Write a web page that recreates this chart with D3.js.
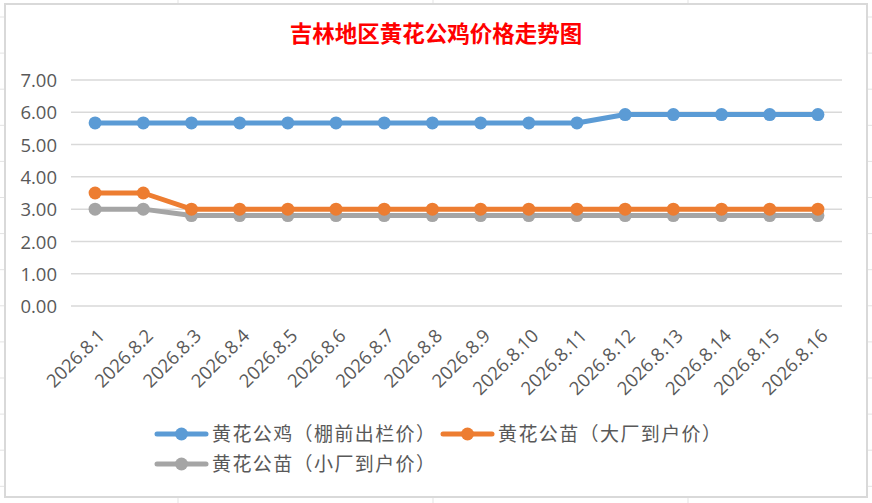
<!DOCTYPE html>
<html>
<head>
<meta charset="utf-8">
<script src="https://cdn.jsdelivr.net/npm/d3@7"></script>
<style>
  body { margin: 0; background: #fff; }
  svg { display: block; font-family: "Noto Sans CJK SC", "Open Sans", sans-serif; }
</style>
</head>
<body>
<svg id="chart" width="872" height="503"></svg>
<script>
const dates = ["2026.8.1", "2026.8.2", "2026.8.3", "2026.8.4", "2026.8.5", "2026.8.6", "2026.8.7", "2026.8.8",
  "2026.8.9", "2026.8.10", "2026.8.11", "2026.8.12", "2026.8.13", "2026.8.14", "2026.8.15", "2026.8.16"];
const roosterPrice = [5.67, 5.67, 5.67, 5.67, 5.67, 5.67, 5.67, 5.67, 5.67, 5.67, 5.67, 5.93, 5.93, 5.93, 5.93, 5.93];
const chickBigFarm = [3.5, 3.5, 3.0, 3.0, 3.0, 3.0, 3.0, 3.0, 3.0, 3.0, 3.0, 3.0, 3.0, 3.0, 3.0, 3.0];
const chickSmallFarm = [3.0, 3.0, 2.8, 2.8, 2.8, 2.8, 2.8, 2.8, 2.8, 2.8, 2.8, 2.8, 2.8, 2.8, 2.8, 2.8];
const yTicks = [0, 1, 2, 3, 4, 5, 6, 7];

const series = [
  { name: "黄花公鸡（棚前出栏价）", values: roosterPrice, color: "#5b9bd5" },
  { name: "黄花公苗（大厂到户价）", values: chickBigFarm, color: "#ed7d31" },
  { name: "黄花公苗（小厂到户价）", values: chickSmallFarm, color: "#a5a5a5" },
];

const svg = d3.select("#chart");
const width = +svg.attr("width");
const height = +svg.attr("height");

// spreadsheet cells behind the chart
const sheet = svg.append("g").attr("stroke", "#e3e3e3").attr("stroke-width", 1);
d3.range(17, height, 36.1).forEach((y) => {
  sheet.append("line").attr("x1", 0).attr("x2", width).attr("y1", y).attr("y2", y);
});
[178, 433, 688].forEach((x) => {
  sheet.append("line").attr("x1", x).attr("x2", x).attr("y1", 0).attr("y2", height);
});

// chart frame
svg.append("rect")
  .attr("x", 5).attr("y", 4).attr("width", 862).attr("height", 493)
  .attr("fill", "#fff").attr("stroke", "#d9d9d9").attr("stroke-width", 2);

svg.append("text")
  .attr("x", 436).attr("y", 42)
  .attr("text-anchor", "middle")
  .attr("fill", "#ff0000")
  .attr("font-size", 22.5)
  .attr("font-weight", 700)
  .text("吉林地区黄花公鸡价格走势图");

const x = d3.scaleBand().domain(dates).range([71, 842]);
const y = d3.scaleLinear().domain([0, 7]).range([306, 80]);

// gridlines
svg.append("g")
  .selectAll("line")
  .data(yTicks)
  .join("line")
  .attr("x1", 71).attr("x2", 842)
  .attr("y1", (d) => y(d)).attr("y2", (d) => y(d))
  .attr("stroke", "#d9d9d9").attr("stroke-width", 1.5);

const yAxis = svg.append("g")
  .attr("transform", "translate(57,0)")
  .call(d3.axisLeft(y).tickValues(yTicks).tickFormat(d3.format(".2f")).tickSize(0).tickPadding(0));
yAxis.select(".domain").remove();
yAxis.selectAll("text")
  .attr("fill", "#595959").attr("font-size", 18.5).attr("dy", "0.36em")
  .attr("font-family", "Open Sans, sans-serif");

const xAxis = svg.append("g")
  .attr("transform", "translate(0,306)")
  .call(d3.axisBottom(x).tickSize(0).tickPadding(0));
xAxis.select(".domain").remove();
xAxis.selectAll("text")
  .attr("fill", "#595959").attr("font-size", 18.5)
  .attr("font-family", "Open Sans, sans-serif")
  .attr("text-anchor", "end")
  .attr("dy", 0)
  .attr("transform", "translate(11,31) rotate(-45)");

const cx = (i) => x(dates[i]) + x.bandwidth() / 2;
const line = d3.line().x((d, i) => cx(i)).y((d) => y(d));

// draw grey first so orange and blue sit on top like the original
[...series].reverse().forEach((s) => {
  const g = svg.append("g");
  g.append("path")
    .attr("d", line(s.values))
    .attr("fill", "none")
    .attr("stroke", s.color)
    .attr("stroke-width", 5)
    .attr("stroke-linejoin", "round");
  g.selectAll("circle")
    .data(s.values)
    .join("circle")
    .attr("cx", (d, i) => cx(i))
    .attr("cy", (d) => y(d))
    .attr("r", 6.5)
    .attr("fill", s.color);
});

// legend
const legendPos = [[157, 434], [443, 434], [157, 464]];
series.forEach((s, i) => {
  const [lx, ly] = legendPos[i];
  const g = svg.append("g").attr("transform", `translate(${lx},${ly})`);
  g.append("line").attr("x1", 0).attr("x2", 49).attr("y1", 0).attr("y2", 0)
    .attr("stroke", s.color).attr("stroke-width", 5).attr("stroke-linecap", "round");
  g.append("circle").attr("cx", 24.5).attr("cy", 0).attr("r", 6.5).attr("fill", s.color);
  g.append("text").attr("x", 55).attr("y", 0).attr("dy", "0.36em")
    .attr("fill", "#595959").attr("font-size", 19)
    .attr("letter-spacing", 1.4)
    .text(s.name);
});
</script>
</body>
</html>
